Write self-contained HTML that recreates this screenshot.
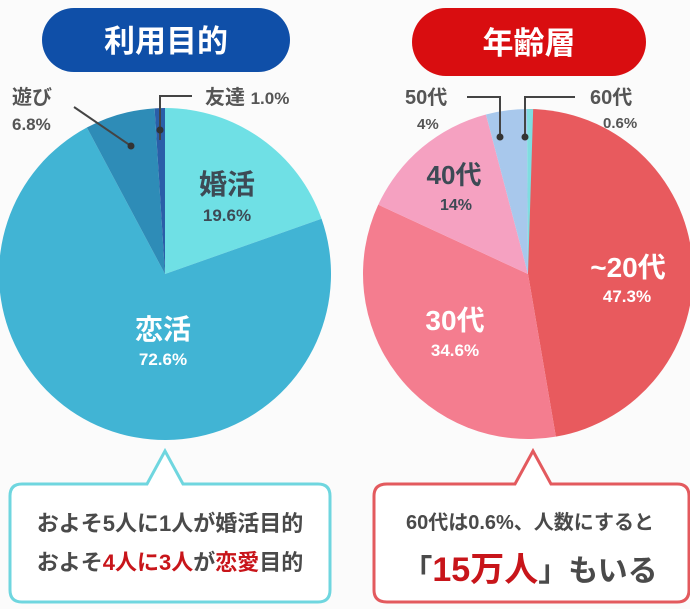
<!DOCTYPE html>
<html><head><meta charset="utf-8"><style>
body{margin:0;width:690px;height:609px;background:#fbfbfb;overflow:hidden;font-family:"Liberation Sans","Noto Sans CJK JP",sans-serif}
svg{position:absolute;left:0;top:0}
text{font-family:"Liberation Sans","Noto Sans CJK JP",sans-serif;font-weight:bold}
</style></head><body>
<svg id="s" width="690" height="609" viewBox="0 0 690 609">
<rect x="42" y="8" width="248" height="64" rx="32" fill="#0f4fa8"/>
<text x="166" y="52" font-size="31" fill="#fff" text-anchor="middle">利用目的</text>
<rect x="412" y="8" width="234" height="68" rx="34" fill="#d90d10"/>
<text x="529" y="54" font-size="31" fill="#fff" text-anchor="middle">年齢層</text>
<g id="pies"></g>
<polyline points="160,140 160,96 192,96" fill="none" stroke="#444" stroke-width="2"/>
<circle cx="160" cy="130" r="3.5" fill="#333"/>
<line x1="74" y1="107" x2="131" y2="146" stroke="#444" stroke-width="2"/>
<circle cx="131" cy="146" r="3.5" fill="#333"/>
<polyline points="467,97 500,97 500,138" fill="none" stroke="#444" stroke-width="2"/>
<circle cx="500" cy="137" r="3.5" fill="#333"/>
<polyline points="525,138 525,97 575,97" fill="none" stroke="#444" stroke-width="2"/>
<circle cx="525" cy="137" r="3.5" fill="#333"/>
<text x="205" y="104" font-size="20" fill="#555">友達 <tspan font-size="17">1.0%</tspan></text>
<text x="12" y="104" font-size="20" fill="#555">遊び</text>
<text x="12" y="130" font-size="17" fill="#555">6.8%</text>
<text x="405" y="104" font-size="20" fill="#555">50代</text>
<text x="417" y="129" font-size="15" fill="#555">4%</text>
<text x="590" y="104" font-size="20" fill="#555">60代</text>
<text x="603" y="128" font-size="15" fill="#555">0.6%</text>
<g fill="#fff" text-anchor="middle">
<text x="227" y="194" font-size="28" fill="#3d4a55">婚活</text>
<text x="227" y="221" font-size="17" fill="#3d4a55">19.6%</text>
<text x="163" y="339" font-size="28">恋活</text>
<text x="163" y="365" font-size="17">72.6%</text>
<text x="454" y="184" font-size="26" fill="#3d4a55">40代</text>
<text x="456" y="210" font-size="16" fill="#3d4a55">14%</text>
<text x="628" y="277" font-size="28">~20代</text>
<text x="627" y="302" font-size="17">47.3%</text>
<text x="455" y="330" font-size="28">30代</text>
<text x="455" y="356" font-size="17">34.6%</text>
</g>
<path d="M22,484 H147 L165,451 L183,484 H318 Q330,484 330,496 V590 Q330,602 318,602 H22 Q10,602 10,590 V496 Q10,484 22,484 Z" fill="#fff" stroke="#6fd6df" stroke-width="3"/>
<path d="M387,484 H515 L533,451 L551,484 H677 Q689,484 689,496 V590 Q689,602 677,602 H387 Q374,602 374,590 V496 Q374,484 387,484 Z" fill="#fff" stroke="#e35a5e" stroke-width="3"/>
<text x="170" y="531" font-size="22" fill="#4a4a4a" text-anchor="middle">およそ5人に1人が婚活目的</text>
<text x="170" y="570" font-size="22" fill="#4a4a4a" text-anchor="middle">およそ<tspan fill="#c8151a">4人に3人</tspan>が<tspan fill="#c8151a">恋愛</tspan>目的</text>
<text x="530" y="529" font-size="20" fill="#4a4a4a" text-anchor="middle" font-weight="normal">60代は0.6%、人数にすると</text>
<text x="530" y="581" font-size="30" fill="#4a4a4a" text-anchor="middle">「<tspan fill="#c8151a" font-size="34">15万人</tspan>」もいる</text>
</svg>
<script>
function pie(cx,cy,r,data){var a=-Math.PI/2,out='';data.forEach(function(d){var b=a+d[0]/100*2*Math.PI;var x1=cx+r*Math.cos(a),y1=cy+r*Math.sin(a),x2=cx+r*Math.cos(b),y2=cy+r*Math.sin(b);out+='<path d="M'+cx+','+cy+' L'+x1+','+y1+' A'+r+','+r+' 0 '+((b-a)>Math.PI?1:0)+' 1 '+x2+','+y2+' Z" fill="'+d[1]+'"/>';a=b;});return out;}
document.getElementById('pies').innerHTML=
pie(165,274,166,[[19.6,'#6fe0e5'],[72.6,'#41b4d4'],[6.8,'#2e8cb7'],[1.0,'#2a5ea8']])+
pie(528,274,165,[[47.3,'#e85a5e'],[34.6,'#f47d8f'],[14,'#f5a1c1'],[4,'#a8c8ec'],[0.6,'#7fdde0']]);
</script>
</body></html>
